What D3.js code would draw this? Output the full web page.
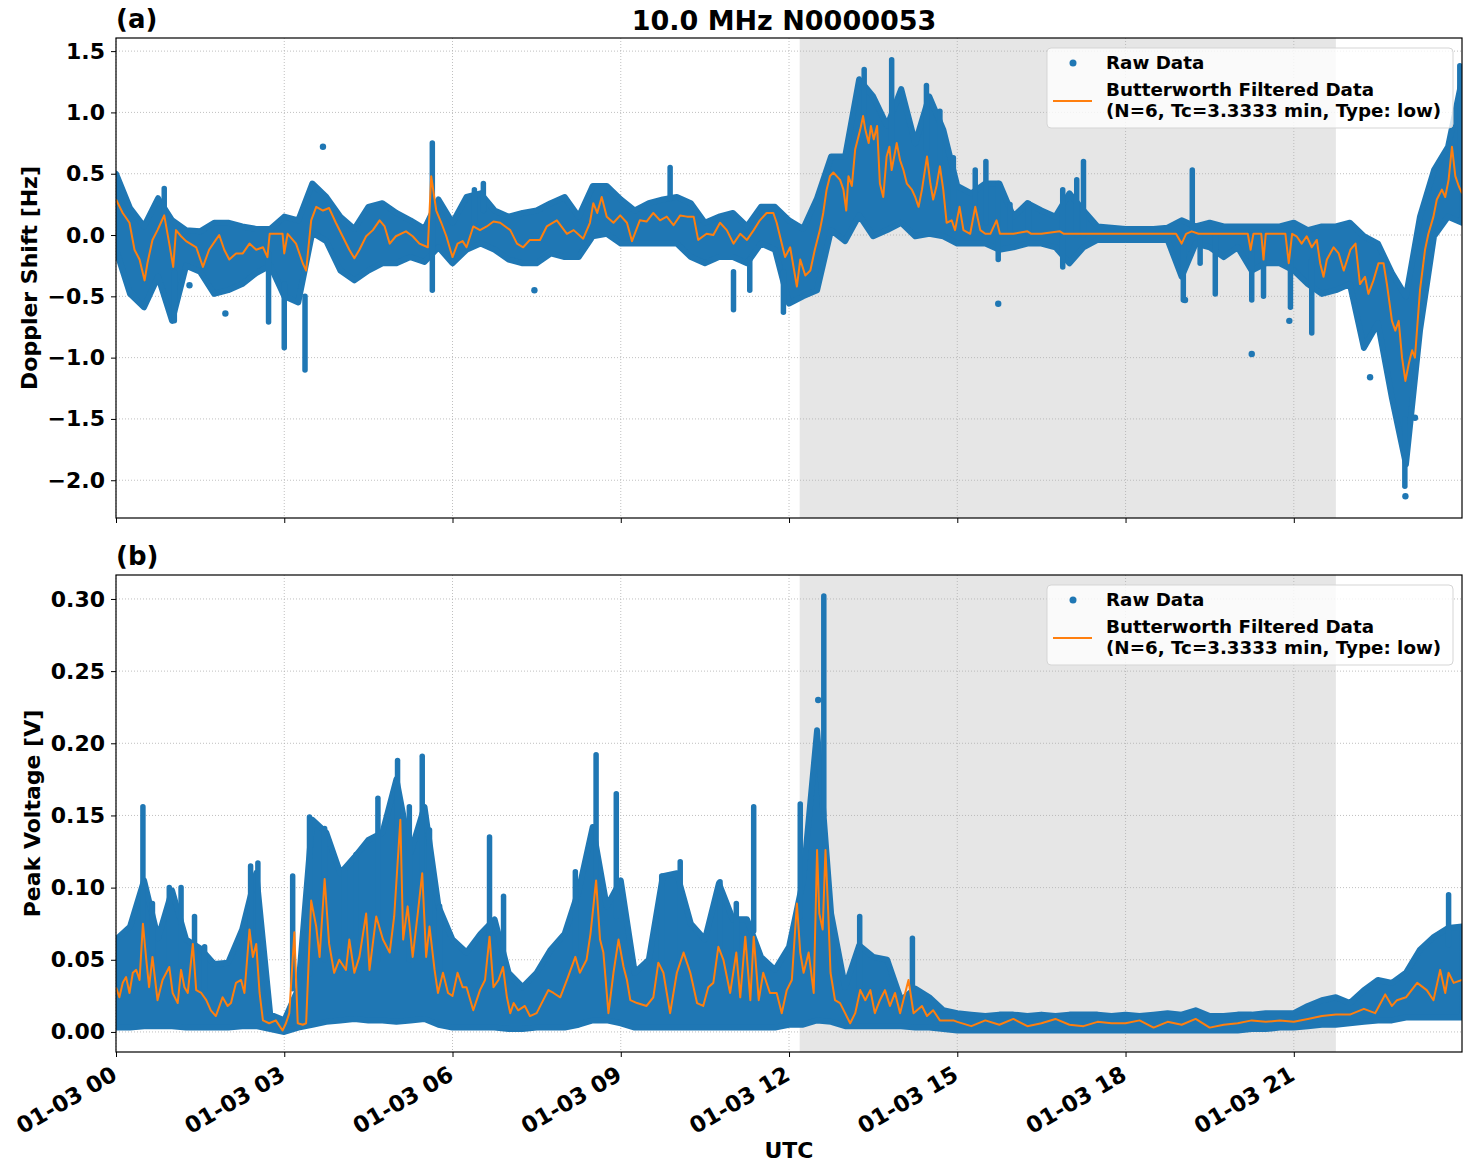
<!DOCTYPE html>
<html>
<head>
<meta charset="utf-8">
<script src="https://cdn.jsdelivr.net/npm/d3@7"></script>
<style>
  body { margin: 0; background: #fff; }
  text { font-family: "DejaVu Sans", sans-serif; font-weight: bold; }
</style>
</head>
<body>
<script>
// ---- data ----
// envelope of the raw scatter, one value every 15 min from 00:00 to 24:00
const stepH = 0.25
const hiA = [0.50, 0.22,0.07,0.30,0.12, 0.04,0.03,0.10,0.10, 0.07,0.05,0.05,0.15, 0.12,0.42,0.31,0.15,
  0.05,0.23,0.26,0.18, 0.12,0.05,0.29,0.10, 0.31,0.34,0.20,0.15, 0.18,0.20,0.26,0.31, 0.15,0.40,0.40,0.29,
  0.20,0.26,0.29,0.31, 0.26,0.10,0.15,0.18, 0.07,0.23,0.23,0.12, 0.05,0.30,0.64,0.64, 1.27,1.13,0.89,1.19,
  0.75,1.13,0.86,0.40, 0.34,0.42,0.42,0.15, 0.26,0.20,0.15,0.34, 0.20,0.07,0.06,0.05, 0.05,0.05,0.06,0.12,
  0.07,0.10,0.07,0.07, 0.07,0.07,0.07,0.10, 0.04,0.07,0.07,0.10, -0.01,-0.07,-0.31,-0.50, 0.15,0.53,0.72,1.27]
const loA = [-0.12, -0.48,-0.59,-0.34,-0.70, -0.25,-0.30,-0.48,-0.45, -0.40,-0.31,-0.25,-0.50, -0.55,0.02,-0.05,-0.29,
  -0.37,-0.29,-0.23,-0.23, -0.18,-0.22,-0.10,-0.23, -0.12,-0.07,-0.12,-0.20, -0.23,-0.23,-0.15,-0.18,
  -0.18,-0.01,0.01,-0.07, -0.07,-0.07,-0.07,-0.07, -0.18,-0.23,-0.18,-0.18, -0.23,-0.07,-0.12,-0.56,
  -0.50,-0.45,0.04,-0.05, 0.16,-0.01,0.04,0.10, -0.01,0.01,-0.01,-0.07, -0.07,-0.07,-0.12,-0.10,
  -0.07,-0.07,-0.10,-0.23, -0.10,-0.04,-0.04,-0.04, -0.04,-0.04,-0.04,-0.34, -0.07,-0.10,-0.18,-0.10,
  -0.29,-0.23,-0.23,-0.29, -0.40,-0.48,-0.45,-0.40, -0.92,-0.72,-1.33,-1.87, -0.78,-0.01,0.15,0.10]
const hiB = [0.064, 0.073,0.105,0.065,0.098, 0.064,0.058,0.047,0.048, 0.071,0.110,0.012,0.008, 0.030,0.147,0.138,0.110,
  0.121,0.133,0.138,0.175, 0.124,0.156,0.087,0.064, 0.055,0.068,0.078,0.041, 0.031,0.041,0.057,0.068,
  0.098,0.142,0.087,0.105, 0.041,0.050,0.108,0.110, 0.075,0.064,0.103,0.078, 0.078,0.052,0.043,0.059,
  0.105,0.209,0.082,0.031, 0.060,0.052,0.050,0.022, 0.030,0.024,0.015,0.013, 0.012,0.011,0.012,0.012,
  0.011,0.012,0.011,0.012, 0.012,0.012,0.011,0.012, 0.011,0.012,0.013,0.012, 0.015,0.011,0.011,0.012,
  0.012,0.013,0.013,0.013, 0.018,0.022,0.024,0.020, 0.029,0.036,0.034,0.041, 0.057,0.066,0.072,0.073]
const loB = [0.003, 0.003,0.004,0.004,0.004, 0.003,0.003,0.003,0.003, 0.004,0.004,0.002,0.000, 0.003,0.005,0.007,0.008,
  0.009,0.008,0.008,0.007, 0.008,0.009,0.005,0.003, 0.003,0.003,0.003,0.002, 0.002,0.003,0.003,0.003,
  0.005,0.008,0.008,0.006, 0.003,0.003,0.003,0.003, 0.003,0.003,0.003,0.003, 0.003,0.003,0.003,0.005,
  0.005,0.008,0.007,0.004, 0.004,0.004,0.004,0.004, 0.003,0.003,0.002,0.001, 0.001,0.001,0.001,0.001,
  0.001,0.001,0.001,0.001, 0.001,0.001,0.001,0.001, 0.001,0.001,0.001,0.001, 0.001,0.001,0.001,0.001,
  0.002,0.002,0.003,0.003, 0.004,0.005,0.005,0.006, 0.007,0.008,0.008,0.010, 0.010,0.010,0.010,0.010]

// isolated columns of raw points [hour, low, high] and single raw points [hour, value]
const spikesA = [[0.86,0.1,0.38],[1.04,-0.70,-0.3],[2.72,-0.71,-0.15],[3.0,-0.92,-0.4],[3.37,-1.1,-0.5],
  [5.64,-0.45,0.75],[6.39,0.1,0.37],[6.55,0.2,0.42],[9.88,0.3,0.55],[11.01,-0.61,-0.3],[11.3,-0.45,-0.2],
  [11.9,-0.63,-0.3],[13.34,0.8,1.35],[13.83,0.6,1.43],[14.45,0.7,1.22],[14.69,0.5,1.01],[14.93,0.2,0.63],
  [15.32,0.1,0.53],[15.51,0.1,0.6],[15.73,-0.2,0.42],[15.94,0.0,0.25],[16.27,0.0,0.26],[16.88,-0.26,0.37],
  [17.13,0.0,0.45],[17.25,0.0,0.6],[19.03,-0.53,0.0],[19.19,0.0,0.53],[19.33,-0.23,0.0],[19.6,-0.48,0.0],
  [20.25,-0.53,0.0],[20.46,-0.5,0.0],[20.94,-0.59,0.0],[21.32,-0.8,-0.2],[22.98,-2.05,-1.5],[23.96,0.6,1.38]]
const outliersA = [[3.69,0.72],[1.95,-0.64],[1.31,-0.41],[7.46,-0.45],[15.73,-0.56],[19.06,-0.53],
  [20.25,-0.97],[20.92,-0.7],[22.36,-1.16],[22.99,-2.13],[23.16,-1.49]]
const spikesB = [[0.48,0.05,0.156],[0.65,0.04,0.089],[0.95,0.04,0.10],[1.16,0.04,0.10],[1.40,0.03,0.08],
  [1.58,0.03,0.059],[2.4,0.05,0.115],[2.53,0.04,0.117],[3.15,0.03,0.108],[3.45,0.04,0.149],[3.72,0.05,0.141],
  [4.07,0.05,0.112],[4.28,0.05,0.123],[4.67,0.05,0.162],[5.02,0.1,0.188],[5.23,0.05,0.156],[5.46,0.1,0.191],
  [5.59,0.05,0.14],[5.77,0.03,0.087],[6.66,0.06,0.135],[6.91,0.03,0.094],[8.19,0.04,0.111],[8.56,0.1,0.192],
  [8.92,0.08,0.165],[9.73,0.04,0.108],[10.06,0.04,0.118],[10.77,0.04,0.104],[11.06,0.04,0.089],
  [11.37,0.07,0.156],[12.2,0.08,0.158],[12.62,0.15,0.302],[13.26,0.03,0.08],[14.2,0.03,0.065],[23.76,0.06,0.095]]
const outliersB = [[12.52,0.23]]

// Butterworth filtered series [hour, value]
const filtA = [[0,0.29],[0.12,0.18],[0.24,0.10],[0.33,-0.12],[0.42,-0.20],[0.51,-0.37],[0.56,-0.23],[0.65,-0.04],
  [0.74,0.04],[0.80,0.10],[0.86,0.16],[0.95,-0.07],[1.02,-0.26],[1.07,0.04],[1.16,-0.01],[1.25,-0.05],[1.43,-0.10],
  [1.55,-0.26],[1.66,-0.12],[1.78,-0.04],[1.84,0.0],[1.93,-0.12],[2.02,-0.20],[2.14,-0.15],[2.26,-0.15],[2.38,-0.07],
  [2.5,-0.12],[2.62,-0.10],[2.70,-0.18],[2.74,0.01],[2.97,0.01],[3.0,-0.15],[3.06,0.01],[3.21,-0.07],[3.33,-0.23],
  [3.39,-0.29],[3.48,0.12],[3.57,0.23],[3.69,0.20],[3.80,0.22],[3.92,0.10],[4.04,-0.01],[4.16,-0.12],[4.25,-0.19],
  [4.34,-0.12],[4.46,-0.01],[4.58,0.04],[4.70,0.12],[4.79,0.07],[4.88,-0.07],[4.99,-0.01],[5.17,0.03],[5.29,-0.01],
  [5.41,-0.07],[5.56,-0.10],[5.62,0.48],[5.71,0.20],[5.80,0.10],[5.89,-0.01],[6.0,-0.18],[6.09,-0.07],[6.18,-0.05],
  [6.25,-0.10],[6.37,0.07],[6.49,0.04],[6.61,0.07],[6.73,0.11],[6.85,0.10],[7.03,0.04],[7.15,-0.07],[7.26,-0.10],
  [7.38,-0.04],[7.56,-0.04],[7.68,0.07],[7.86,0.12],[8.04,0.01],[8.16,0.04],[8.33,-0.03],[8.45,0.10],[8.51,0.26],
  [8.58,0.18],[8.66,0.31],[8.75,0.15],[8.87,0.10],[8.99,0.16],[9.11,0.10],[9.20,-0.05],[9.34,0.12],[9.46,0.11],
  [9.58,0.18],[9.70,0.12],[9.82,0.15],[9.94,0.08],[10.06,0.16],[10.18,0.15],[10.30,0.15],[10.38,-0.04],[10.53,0.01],
  [10.65,0.0],[10.77,0.10],[10.89,0.04],[11.01,-0.07],[11.13,0.01],[11.25,-0.04],[11.37,0.04],[11.48,0.12],[11.60,0.18],
  [11.72,0.18],[11.78,0.10],[11.87,-0.07],[11.93,-0.18],[12.02,-0.10],[12.14,-0.42],[12.2,-0.20],[12.29,-0.33],
  [12.38,-0.29],[12.46,-0.12],[12.55,0.04],[12.61,0.18],[12.67,0.37],[12.73,0.48],[12.79,0.51],[12.85,0.48],
  [12.91,0.45],[12.97,0.37],[13.02,0.20],[13.06,0.48],[13.12,0.40],[13.18,0.70],[13.27,0.86],[13.32,0.97],
  [13.36,0.86],[13.42,0.75],[13.46,0.89],[13.51,0.78],[13.57,0.89],[13.62,0.42],[13.68,0.31],[13.74,0.64],
  [13.79,0.72],[13.83,0.53],[13.92,0.75],[13.98,0.61],[14.04,0.53],[14.10,0.42],[14.19,0.37],[14.25,0.31],
  [14.31,0.23],[14.37,0.37],[14.46,0.64],[14.52,0.42],[14.57,0.29],[14.63,0.40],[14.69,0.56],[14.75,0.37],
  [14.81,0.10],[14.90,0.12],[14.96,0.04],[15.04,0.23],[15.11,0.04],[15.23,0.01],[15.32,0.23],[15.41,0.04],
  [15.5,0.01],[15.59,0.01],[15.70,0.12],[15.76,0.01],[16.0,0.01],[16.25,0.03],[16.32,0.01],[16.5,0.01],[16.83,0.03],
  [16.9,0.01],[17.3,0.01],[18.0,0.01],[18.9,0.01],[19.0,-0.07],[19.08,0.01],[19.18,0.03],[19.3,0.01],[20.18,0.01],
  [20.23,-0.12],[20.28,0.01],[20.42,0.01],[20.46,-0.20],[20.5,0.01],[20.85,0.01],[20.91,-0.23],[20.97,0.01],
  [21.05,-0.01],[21.14,-0.07],[21.23,-0.01],[21.32,-0.10],[21.41,-0.04],[21.47,-0.23],[21.53,-0.34],[21.59,-0.20],
  [21.71,-0.10],[21.8,-0.15],[21.89,-0.29],[22.01,-0.12],[22.1,-0.07],[22.18,-0.40],[22.27,-0.34],[22.33,-0.48],
  [22.42,-0.37],[22.51,-0.23],[22.6,-0.23],[22.66,-0.40],[22.75,-0.70],[22.81,-0.78],[22.87,-0.70],[22.93,-1.0],
  [22.99,-1.19],[23.05,-1.05],[23.11,-0.94],[23.16,-1.0],[23.25,-0.45],[23.34,-0.12],[23.40,0.01],[23.49,0.15],
  [23.55,0.29],[23.64,0.37],[23.70,0.31],[23.76,0.45],[23.82,0.72],[23.88,0.48],[23.94,0.40],[24.0,0.34]]
const filtB = [[0,0.031],[0.06,0.024],[0.12,0.034],[0.18,0.038],[0.24,0.027],[0.3,0.041],[0.36,0.043],[0.42,0.036],
  [0.48,0.075],[0.54,0.05],[0.59,0.031],[0.65,0.052],[0.74,0.022],[0.83,0.036],[0.95,0.045],[1.01,0.027],[1.1,0.020],
  [1.16,0.043],[1.22,0.031],[1.28,0.027],[1.37,0.061],[1.43,0.029],[1.52,0.027],[1.61,0.022],[1.69,0.015],[1.78,0.011],
  [1.9,0.024],[1.99,0.018],[2.05,0.020],[2.14,0.034],[2.23,0.036],[2.29,0.027],[2.38,0.071],[2.44,0.052],[2.5,0.061],
  [2.56,0.027],[2.62,0.008],[2.73,0.006],[2.85,0.008],[2.97,0.001],[3.03,0.006],[3.09,0.013],[3.18,0.069],[3.24,0.006],
  [3.33,0.005],[3.39,0.006],[3.48,0.091],[3.57,0.073],[3.63,0.052],[3.72,0.106],[3.8,0.061],[3.89,0.041],[3.98,0.05],
  [4.1,0.043],[4.16,0.064],[4.25,0.041],[4.34,0.052],[4.46,0.082],[4.52,0.043],[4.64,0.08],[4.76,0.064],[4.88,0.055],
  [4.96,0.08],[5.07,0.147],[5.12,0.064],[5.2,0.087],[5.29,0.052],[5.38,0.082],[5.46,0.11],[5.53,0.052],[5.59,0.073],
  [5.68,0.043],[5.74,0.027],[5.83,0.041],[5.92,0.027],[6.0,0.025],[6.09,0.041],[6.18,0.031],[6.25,0.031],[6.37,0.015],
  [6.49,0.029],[6.58,0.036],[6.66,0.066],[6.73,0.031],[6.82,0.036],[6.9,0.045],[6.97,0.024],[7.03,0.013],[7.09,0.020],
  [7.17,0.015],[7.29,0.018],[7.38,0.011],[7.5,0.013],[7.59,0.020],[7.71,0.029],[7.8,0.027],[7.92,0.024],[8.04,0.036],
  [8.19,0.052],[8.27,0.041],[8.39,0.05],[8.46,0.068],[8.56,0.105],[8.63,0.064],[8.69,0.055],[8.78,0.013],[8.87,0.041],
  [8.96,0.064],[9.05,0.045],[9.11,0.036],[9.17,0.022],[9.29,0.020],[9.46,0.018],[9.58,0.024],[9.67,0.048],[9.76,0.041],
  [9.88,0.013],[10.0,0.041],[10.12,0.055],[10.24,0.041],[10.36,0.020],[10.47,0.018],[10.56,0.031],[10.65,0.034],
  [10.74,0.059],[10.83,0.05],[10.95,0.027],[11.06,0.055],[11.13,0.024],[11.22,0.066],[11.31,0.022],[11.37,0.066],
  [11.46,0.022],[11.54,0.041],[11.66,0.027],[11.78,0.027],[11.87,0.013],[11.96,0.029],[12.05,0.036],[12.14,0.089],
  [12.2,0.055],[12.26,0.041],[12.35,0.055],[12.44,0.027],[12.5,0.126],[12.54,0.082],[12.6,0.071],[12.65,0.126],
  [12.7,0.082],[12.74,0.041],[12.82,0.022],[12.91,0.02],[13.0,0.013],[13.09,0.006],[13.18,0.013],[13.27,0.029],
  [13.36,0.022],[13.45,0.029],[13.53,0.013],[13.62,0.022],[13.71,0.029],[13.8,0.018],[13.89,0.027],[13.98,0.013],
  [14.13,0.036],[14.22,0.013],[14.37,0.018],[14.46,0.011],[14.57,0.015],[14.69,0.008],[14.93,0.008],[15.0,0.007],
  [15.25,0.004],[15.5,0.008],[15.75,0.005],[16.0,0.009],[16.25,0.004],[16.5,0.006],[16.75,0.009],[17.0,0.005],
  [17.25,0.004],[17.5,0.007],[17.75,0.006],[18.0,0.006],[18.25,0.008],[18.5,0.003],[18.75,0.007],[19.0,0.005],
  [19.25,0.009],[19.5,0.003],[19.75,0.005],[20.0,0.006],[20.25,0.008],[20.5,0.007],[20.75,0.008],[21.0,0.007],
  [21.25,0.009],[21.5,0.011],[21.75,0.012],[22.0,0.012],[22.25,0.016],[22.45,0.013],[22.63,0.026],[22.75,0.018],
  [22.84,0.022],[23.0,0.024],[23.2,0.034],[23.37,0.029],[23.49,0.022],[23.61,0.043],[23.7,0.027],[23.76,0.041],
  [23.85,0.034],[24.0,0.036]]

// shaded interval (hours) and labels
const shadeHours = [12.19, 21.75]
const ticksA = [-2.0, -1.5, -1.0, -0.5, 0.0, 0.5, 1.0, 1.5]
const ticksB = [0.00, 0.05, 0.10, 0.15, 0.20, 0.25, 0.30]
const legendLabels = ['Raw Data', 'Butterworth Filtered Data', '(N=6, Tc=3.3333 min, Type: low)']

const blue = '#1f77b4', orange = '#ff7f0e'
const W = 1472, H = 1172
const day0 = Date.UTC(2023, 0, 3)
const toDate = h => new Date(day0 + h * 3600e3)

const svg = d3.select('body').append('svg').attr('width', W).attr('height', H)

const x = d3.scaleUtc().domain([toDate(0), toDate(23.999)]).range([116, 1462])

svg.append('text').attr('x', 784).attr('y', 30).attr('text-anchor', 'middle')
  .attr('font-size', '27px').text('10.0 MHz N0000053')

function panel(opt) {
  const y = d3.scaleLinear().domain(opt.domain).range([opt.bottom, opt.top])
  const g = svg.append('g')
  const clipId = 'clip' + opt.id
  g.append('clipPath').attr('id', clipId).append('rect')
    .attr('x', 116).attr('y', opt.top).attr('width', 1462 - 116).attr('height', opt.bottom - opt.top)

  // shaded period
  g.append('rect').attr('x', x(toDate(shadeHours[0]))).attr('y', opt.top)
    .attr('width', x(toDate(shadeHours[1])) - x(toDate(shadeHours[0]))).attr('height', opt.bottom - opt.top)
    .attr('fill', '#e6e6e6')

  // grid
  const hourTicks = x.ticks(d3.utcHour.every(3)).filter(d => d < toDate(23.99))
  g.selectAll('.vg').data(hourTicks).enter().append('line')
    .attr('x1', d => x(d)).attr('x2', d => x(d)).attr('y1', opt.top).attr('y2', opt.bottom)
    .attr('stroke', '#b0b0b0').attr('stroke-width', 0.8).attr('stroke-dasharray', '1,2')
  g.selectAll('.hg').data(opt.ticks).enter().append('line')
    .attr('x1', 116).attr('x2', 1462).attr('y1', d => y(d)).attr('y2', d => y(d))
    .attr('stroke', '#b0b0b0').attr('stroke-width', 0.8).attr('stroke-dasharray', '1,2')

  const data = g.append('g').attr('clip-path', `url(#${clipId})`)

  // raw data: dense scatter drawn as its envelope, plus isolated columns and points
  const env = opt.hi.map((v, i) => ({ h: i * stepH, hi: v, lo: opt.lo[i] }))
  data.append('path').datum(env)
    .attr('d', d3.area().x(d => x(toDate(d.h))).y0(d => y(d.lo)).y1(d => y(d.hi)))
    .attr('fill', blue).attr('stroke', blue).attr('stroke-width', 6).attr('stroke-linejoin', 'round')
  data.selectAll('.spike').data(opt.spikes).enter().append('line')
    .attr('x1', d => x(toDate(d[0]))).attr('x2', d => x(toDate(d[0])))
    .attr('y1', d => y(d[1])).attr('y2', d => y(d[2]))
    .attr('stroke', blue).attr('stroke-width', 5.5).attr('stroke-linecap', 'round')
  data.selectAll('.dot').data(opt.outliers).enter().append('circle')
    .attr('cx', d => x(toDate(d[0]))).attr('cy', d => y(d[1])).attr('r', 3.2).attr('fill', blue)

  // filtered line
  data.append('path').datum(opt.filt)
    .attr('d', d3.line().x(d => x(toDate(d[0]))).y(d => y(d[1])))
    .attr('fill', 'none').attr('stroke', orange).attr('stroke-width', 2).attr('stroke-linejoin', 'round')

  // axes
  const yAxis = g.append('g').attr('transform', 'translate(116,0)')
    .call(d3.axisLeft(y).tickValues(opt.ticks).tickSize(5).tickPadding(6)
      .tickFormat(d => d3.format(opt.fmt)(d).replace('-', '\u2212')))
  yAxis.select('.domain').remove()
  yAxis.selectAll('text').attr('font-size', '22px').attr('fill', '#000')
  yAxis.selectAll('line').attr('stroke', '#000').attr('stroke-width', 1)

  const xAxis = g.append('g').attr('transform', `translate(0,${opt.bottom})`)
    .call(d3.axisBottom(x).tickValues(hourTicks).tickSize(5)
      .tickFormat(opt.labels ? d3.utcFormat('%m-%d %H') : ''))
  xAxis.select('.domain').remove()
  xAxis.selectAll('line').attr('stroke', '#000').attr('stroke-width', 1)
  if (opt.labels) {
    xAxis.selectAll('text').attr('font-size', '22.5px').attr('fill', '#000')
      .attr('text-anchor', 'end').attr('dy', null).attr('y', 0)
      .attr('transform', 'translate(2,27) rotate(-30)')
  }

  // frame
  g.append('rect').attr('x', 116).attr('y', opt.top).attr('width', 1462 - 116).attr('height', opt.bottom - opt.top)
    .attr('fill', 'none').attr('stroke', '#000').attr('stroke-width', 1.2)

  // panel letter and y label
  g.append('text').attr('x', 116).attr('y', opt.top - 10).attr('font-size', '26px').text(opt.letter)
  g.append('text').attr('transform', `translate(${opt.labelX},${(opt.top + opt.bottom) / 2}) rotate(-90)`)
    .attr('text-anchor', 'middle').attr('font-size', '22px').text(opt.ylabel)

  // legend
  const lg = g.append('g').attr('transform', `translate(1047,${opt.top + 10})`)
  lg.append('rect').attr('width', 406).attr('height', 80).attr('rx', 4)
    .attr('fill', '#fff').attr('fill-opacity', 0.8).attr('stroke', '#d5d5d5')
  lg.append('circle').attr('cx', 26).attr('cy', 15).attr('r', 3.5).attr('fill', blue)
  lg.append('line').attr('x1', 6).attr('x2', 45).attr('y1', 53).attr('y2', 53)
    .attr('stroke', orange).attr('stroke-width', 2)
  lg.selectAll('.lt').data(legendLabels).enter().append('text')
    .attr('x', 59).attr('y', (d, i) => [21, 48, 69][i]).attr('font-size', '18.3px').text(d => d)
}

panel({ id: 'a', top: 38, bottom: 518, domain: [-2.308, 1.607], ticks: ticksA, fmt: '.1f',
  hi: hiA, lo: loA, spikes: spikesA, outliers: outliersA, filt: filtA, labels: false,
  letter: '(a)', ylabel: 'Doppler Shift [Hz]', labelX: 37 })
panel({ id: 'b', top: 575, bottom: 1052, domain: [-0.0139, 0.3166], ticks: ticksB, fmt: '.2f',
  hi: hiB, lo: loB, spikes: spikesB, outliers: outliersB, filt: filtB, labels: true,
  letter: '(b)', ylabel: 'Peak Voltage [V]', labelX: 40 })

svg.append('text').attr('x', 789).attr('y', 1158).attr('text-anchor', 'middle')
  .attr('font-size', '22px').text('UTC')
</script>
</body>
</html>
